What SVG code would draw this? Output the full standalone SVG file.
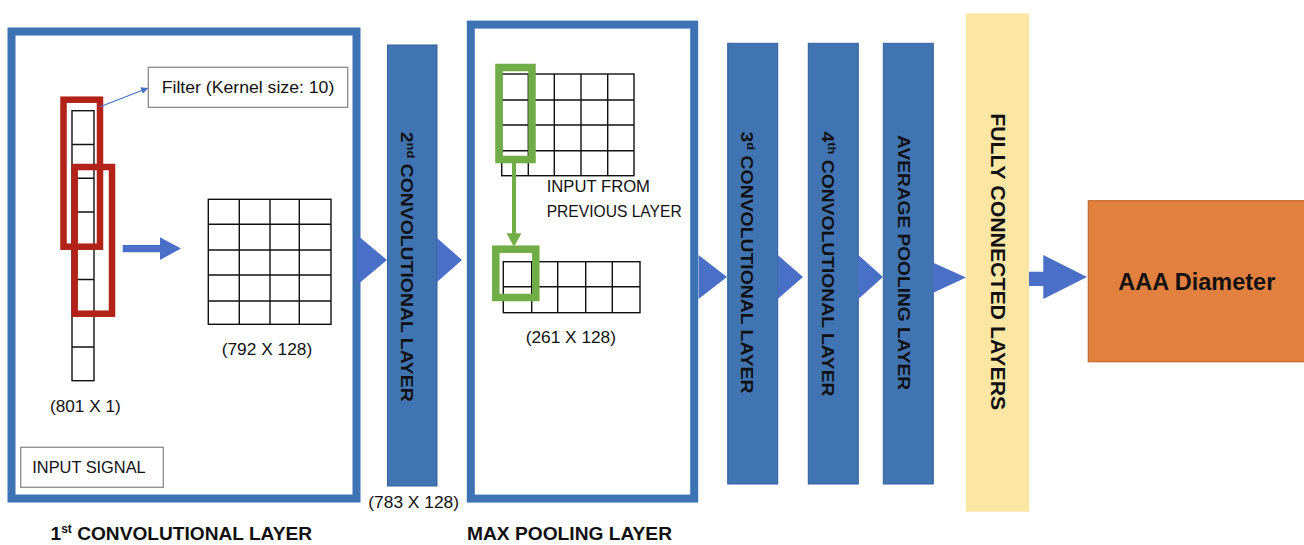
<svg xmlns="http://www.w3.org/2000/svg" width="1304" height="545" viewBox="0 0 1304 545">
<defs>
<style>
.frame{fill:none;stroke:#3D73B5;stroke-width:8}
.bar{fill:#4174B2;stroke:#34609A;stroke-width:1}
.cell{fill:none;stroke:#111;stroke-width:1.4}
.red{fill:none;stroke:#B22219;stroke-width:6.5}
.green{fill:none;stroke:#70AD47;stroke-width:7.5}
.tri{fill:#4A6FC6}
.lbl{font-family:"Liberation Sans",Arial,sans-serif;font-size:17px;fill:#111}
.bold{font-family:"Liberation Sans",Arial,sans-serif;font-weight:bold;fill:#111}
.vt{font-family:"Liberation Sans",Arial,sans-serif;font-weight:bold;font-size:16.5px;fill:#111;text-anchor:middle}
.box{fill:#fff;stroke:#8C8C8C;stroke-width:1.3}
</style>
<marker id="thinhead" viewBox="0 0 10 10" refX="9" refY="5" markerWidth="7" markerHeight="7" orient="auto" markerUnits="userSpaceOnUse">
<path d="M0,0 L10,5 L0,10 z" fill="#4472C4"/>
</marker>
</defs>
<rect width="1304" height="545" fill="#fff"/>

<g id="conv1">
<rect class="frame" x="11.5" y="31.5" width="345" height="467" stroke-width="7"/>
<g id="signal">
<rect class="cell" x="72" y="110.7" width="22" height="270"/>
<path class="cell" d="M72,144.5H94M72,178.2H94M72,212H94M72,245.7H94M72,279.5H94M72,313.2H94M72,347H94"/>
</g>
<rect class="red" x="63.5" y="99.7" width="36.5" height="147"/>
<rect class="red" x="74.7" y="167" width="37.3" height="146.7"/>
<g id="featuremap1">
<rect class="cell" x="208.3" y="199.3" width="122.7" height="125"/>
<path class="cell" d="M239.3,199.3V324.3M270,199.3V324.3M299.3,199.3V324.3M208.3,224.3H331M208.3,250H331M208.3,275H331M208.3,301H331"/>
</g>
<text class="lbl" x="221.7" y="355" textLength="90.6" lengthAdjust="spacingAndGlyphs">(792 X 128)</text>
<text class="lbl" x="50" y="412" textLength="70.7" lengthAdjust="spacingAndGlyphs">(801 X 1)</text>
</g>

<g id="filter-label">
<rect class="box" x="148.3" y="67.3" width="199.4" height="40"/>
<text class="lbl" x="161.7" y="92.5" textLength="172.6" lengthAdjust="spacingAndGlyphs">Filter (Kernel size: 10)</text>
</g>

<g id="input-signal">
<rect class="box" x="20.7" y="447.3" width="142.6" height="40"/>
<text class="lbl" x="32.3" y="472.5" textLength="113.4" lengthAdjust="spacingAndGlyphs">INPUT SIGNAL</text>
</g>

<g id="conv2">
<rect class="bar" x="387.5" y="45" width="49.5" height="441"/>
<text class="vt" transform="translate(400.5,266.7) rotate(90)" textLength="270" lengthAdjust="spacingAndGlyphs">2<tspan font-size="11" baseline-shift="super">nd</tspan> CONVOLUTIONAL LAYER</text>
<text class="lbl" x="368.3" y="508" textLength="90.7" lengthAdjust="spacingAndGlyphs">(783 X 128)</text>
</g>

<g id="maxpool">
<rect class="frame" x="470.8" y="24.6" width="223.4" height="474"/>
<g id="pool-in">
<rect class="cell" x="501.7" y="74" width="132.3" height="101.7"/>
<path class="cell" d="M528.3,74V175.7M554.3,74V175.7M581,74V175.7M607.7,74V175.7M501.7,100H634M501.7,125H634M501.7,150.7H634"/>
</g>
<g id="pool-out">
<rect class="cell" x="503.3" y="261.7" width="136.7" height="51"/>
<path class="cell" d="M531.7,261.7V312.7M557.7,261.7V312.7M585.7,261.7V312.7M612.3,261.7V312.7M503.3,286.7H640"/>
</g>
<rect class="green" x="499" y="67.5" width="33" height="92"/>
<rect class="green" x="495.8" y="249.2" width="40" height="48.3" stroke-width="8"/>
<text class="lbl" x="546.7" y="192" textLength="103.3" lengthAdjust="spacingAndGlyphs">INPUT FROM</text>
<text class="lbl" x="546.7" y="217" textLength="135" lengthAdjust="spacingAndGlyphs">PREVIOUS LAYER</text>
<text class="lbl" x="525.7" y="343" textLength="90.3" lengthAdjust="spacingAndGlyphs">(261 X 128)</text>
</g>

<g id="conv3">
<rect class="bar" x="727.7" y="43.3" width="50" height="440.7"/>
<text class="vt" transform="translate(741,262.5) rotate(90)" textLength="262" lengthAdjust="spacingAndGlyphs">3<tspan font-size="11" baseline-shift="super">d</tspan> CONVOLUTIONAL LAYER</text>
</g>

<g id="conv4">
<rect class="bar" x="808.3" y="43.3" width="50" height="440.7"/>
<text class="vt" transform="translate(821.5,264) rotate(90)" textLength="265" lengthAdjust="spacingAndGlyphs">4<tspan font-size="11" baseline-shift="super">th</tspan> CONVOLUTIONAL LAYER</text>
</g>

<g id="avgpool">
<rect class="bar" x="883.3" y="43.3" width="50" height="440.7"/>
<text class="vt" transform="translate(898,262.5) rotate(90)" textLength="255" lengthAdjust="spacingAndGlyphs">AVERAGE POOLING LAYER</text>
</g>

<g id="fc">
<rect x="966" y="13.3" width="63" height="498.4" fill="#FCE6A4"/>
<text class="vt" style="font-size:20px" transform="translate(991,261.7) rotate(90)" textLength="297" lengthAdjust="spacingAndGlyphs">FULLY CONNECTED LAYERS</text>
</g>

<g id="output">
<rect x="1088.3" y="200.7" width="220" height="161" fill="#E1803F" stroke="#C46A2C" stroke-width="1.2"/>
<text class="bold" x="1118.3" y="289.5" font-size="23" textLength="157" lengthAdjust="spacingAndGlyphs">AAA Diameter</text>
</g>

<g id="captions">
<text class="bold" x="50.5" y="540" font-size="19" textLength="261.5" lengthAdjust="spacingAndGlyphs">1<tspan font-size="12" baseline-shift="super">st</tspan> CONVOLUTIONAL LAYER</text>
<text class="bold" x="467" y="540" font-size="19" textLength="205" lengthAdjust="spacingAndGlyphs">MAX POOLING LAYER</text>
</g>

<g id="connectors">
<line x1="100" y1="106.7" x2="147.5" y2="88.2" stroke="#4472C4" stroke-width="1.2" marker-end="url(#thinhead)"/>
<path class="tri" d="M122.7,245H160V237.3L181,248.6L160,259.9V252.3H122.7Z"/>
<line x1="514" y1="163" x2="514" y2="235" stroke="#70AD47" stroke-width="4"/>
<path d="M506.5,233.3H521.5L514,246.7Z" fill="#70AD47"/>
<path class="tri" d="M357,235L387,260L357,285Z"/>
<path class="tri" d="M437,238L462,260L437,282Z"/>
<path class="tri" d="M698.5,255L727,277L698.5,299Z"/>
<path class="tri" d="M777.7,255L803,277L777.7,299Z"/>
<path class="tri" d="M858.3,255L883,277L858.3,299Z"/>
<path class="tri" d="M933.3,262.7L966,277.5L933.3,292.7Z"/>
<path class="tri" d="M1029,271.7H1043.3V255L1087,277L1043.3,299V286H1029Z"/>
</g>
</svg>
